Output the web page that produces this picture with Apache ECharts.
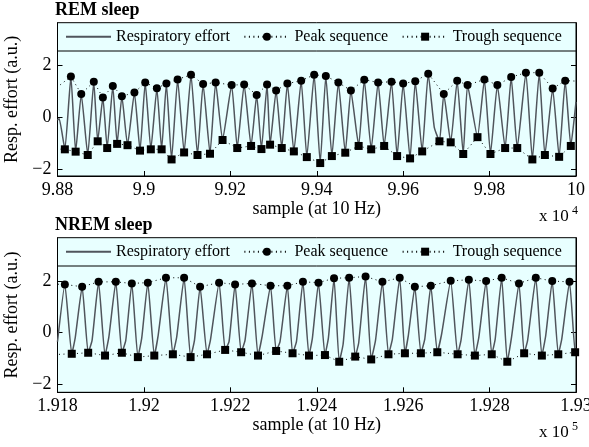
<!DOCTYPE html>
<html>
<head>
<meta charset="utf-8">
<script src="https://cdn.jsdelivr.net/npm/echarts@6/dist/echarts.min.js"></script>
<style>html,body{margin:0;padding:0;background:#fff}#c{width:589px;height:447px}</style>
</head>
<body>
<div id="c"></div>
<script>
// ---------- REM sleep (samples at 10 Hz) ----------
const remEffortX = [98800,98804,98817,98831,98842,98855,98870,98884,98893,98905,98915,98928,98938,98949,98962,98978,98991,99003,99016,99030,99041,99052,99064,99078,99093,99109,99124,99137,99153,99166,99182,99203,99216,99232,99248,99261,99272,99285,99292,99306,99319,99332,99347,99364,99377,99394,99408,99421,99435,99450,99466,99479,99497,99510,99526,99542,99556,99573,99586,99600,99616,99628,99644,99658,99672,99684,99694,99710,99725,99739,99749,99772,99788,99802,99818,99836,99850,99864,99884,99899,99915,99928,99946,99961,99975,99988,100000];
const remEffortY = [-0.1,-0.05,-1.23,1.58,-1.32,0.91,-1.45,1.38,-0.92,0.77,-1.18,1.22,-1.02,0.82,-1.07,0.96,-1.28,1.35,-1.23,1.13,-1.23,1.31,-1.62,1.47,-1.35,1.65,-1.45,1.29,-1.40,1.35,-0.87,1.25,-1.18,1.27,-1.10,0.87,-1.22,1.27,-1.05,1.04,-1.18,1.31,-1.31,1.42,-1.53,1.65,-1.76,1.60,-1.49,1.35,-1.36,1.04,-1.10,1.46,-1.23,1.35,-1.10,1.38,-1.49,1.31,-1.58,1.40,-1.31,1.69,-0.38,-0.92,0.91,-0.96,1.42,-1.41,1.25,-0.76,1.47,-1.41,1.25,-1.18,1.56,-1.18,1.73,-1.62,1.73,-1.45,1.12,-1.52,1.42,-1.10,0.6];
const remPeakX = [98790,98831,98855,98884,98905,98928,98949,98978,99003,99030,99052,99078,99109,99137,99166,99203,99232,99261,99285,99306,99332,99364,99394,99421,99450,99479,99510,99542,99573,99600,99628,99658,99694,99725,99749,99788,99818,99850,99884,99915,99946,99975,100010];
const remPeakY = [1.05,1.58,0.91,1.38,0.77,1.22,0.82,0.96,1.35,1.13,1.31,1.47,1.65,1.29,1.35,1.25,1.27,0.87,1.27,1.04,1.31,1.42,1.65,1.60,1.35,1.04,1.46,1.35,1.38,1.31,1.40,1.69,0.91,1.42,1.25,1.47,1.25,1.56,1.73,1.73,1.12,1.42,1.40];
const remTroughX = [98776,98817,98842,98870,98893,98915,98938,98962,98991,99016,99041,99064,99093,99124,99153,99182,99216,99248,99272,99292,99319,99347,99377,99408,99435,99466,99497,99526,99556,99586,99616,99644,99684,99710,99739,99772,99802,99836,99864,99899,99928,99961,99988];
const remTroughY = [-1.2,-1.23,-1.32,-1.45,-0.92,-1.18,-1.02,-1.07,-1.28,-1.23,-1.23,-1.62,-1.35,-1.45,-1.40,-0.87,-1.18,-1.10,-1.22,-1.05,-1.18,-1.31,-1.53,-1.76,-1.49,-1.36,-1.10,-1.23,-1.10,-1.49,-1.58,-1.31,-0.92,-0.96,-1.41,-0.76,-1.41,-1.18,-1.18,-1.62,-1.45,-1.52,-1.10];

// ---------- NREM sleep ----------
const nremEffortX = [191800,191817,191833,191841,191857,191871,191880,191895,191910,191919,191935,191949,191958,191972,191986,191995,192009,192024,192033,192051,192067,192076,192093,192108,192117,192130,192146,192154,192174,192188,192197,192211,192225,192234,192250,192264,192274,192293,192306,192315,192332,192344,192353,192368,192382,192390,192404,192419,192427,192440,192452,192461,192475,192489,192497,192513,192526,192536,192552,192566,192575,192592,192604,192612,192627,192641,192650,192664,192679,192689,192710,192726,192734,192752,192766,192775,192792,192805,192813,192828,192841,192851,192868,192880,192888,192907,192921,192930,192945,192959,192967,192985,192998,193000];
const nremEffortY = [-0.35,1.88,-0.82,-0.2,1.79,-0.78,-0.3,1.98,-0.89,-0.15,1.98,-0.78,-0.3,1.92,-0.95,-0.2,1.95,-0.89,-0.1,2.14,-0.84,-0.15,2.14,-0.95,-0.3,1.79,-0.84,-0.28,1.95,-0.67,-0.35,1.88,-0.76,-0.3,1.92,-0.89,-0.1,1.83,-0.71,-0.35,1.83,-0.80,-0.35,1.98,-0.89,-0.2,1.95,-0.87,-0.2,2.12,-1.13,-0.45,2.14,-0.93,-0.4,2.19,-1.04,-0.3,1.98,-0.84,-0.25,2.14,-0.80,-0.1,1.79,-0.80,-0.25,1.83,-0.76,-0.05,2.02,-0.84,-0.28,2.06,-0.89,-0.19,2.01,-0.84,-0.25,2.14,-1.13,-0.15,1.92,-0.80,-0.3,2.14,-0.89,-0.1,2.01,-0.84,-0.25,1.98,-0.76,-0.6];
const nremPeakX = [191780,191817,191857,191895,191935,191972,192009,192051,192093,192130,192174,192211,192250,192293,192332,192368,192404,192440,192475,192513,192552,192592,192627,192664,192710,192752,192792,192828,192868,192907,192945,192985,193022];
const nremPeakY = [1.9,1.88,1.79,1.98,1.98,1.92,1.95,2.14,2.14,1.79,1.95,1.88,1.92,1.83,1.83,1.98,1.95,2.12,2.14,2.19,1.98,2.14,1.79,1.83,2.02,2.06,2.01,2.14,1.92,2.14,2.01,1.98,1.95];
const nremTroughX = [191793,191833,191871,191910,191949,191986,192024,192067,192108,192146,192188,192225,192264,192306,192344,192382,192419,192452,192489,192526,192566,192604,192641,192679,192726,192766,192805,192841,192880,192921,192959,192998];
const nremTroughY = [-0.85,-0.82,-0.78,-0.89,-0.78,-0.95,-0.89,-0.84,-0.95,-0.84,-0.67,-0.76,-0.89,-0.71,-0.80,-0.89,-0.87,-1.13,-0.93,-1.04,-0.84,-0.80,-0.80,-0.76,-0.84,-0.89,-0.84,-1.13,-0.80,-0.89,-0.84,-0.76];

const titles = ['REM sleep', 'NREM sleep'];
const seriesNames = ['Respiratory effort', 'Peak sequence', 'Trough sequence'];
const yTicks = [-2, 0, 2];
const xLabelText = 'sample (at 10 Hz)';
const yLabelText = 'Resp. effort (a.u.)';
const xExponents = ['4', '5'];

const zip = (xs, ys) => xs.map((x, i) => [x, ys[i]]);
const FONT = 'Liberation Serif';
const BG = '#E8FFFF';
const LINEC = '#50555c';

const panels = [
  { top: 22.7, height: 153.3, xmin: 98800, xmax: 100000, scale: 1e4, ymin: -2.26, ymax: 3.66, nameGap: 24,
    effort: zip(remEffortX, remEffortY), peaks: zip(remPeakX, remPeakY), troughs: zip(remTroughX, remTroughY) },
  { top: 237.7, height: 154.6, xmin: 191800, xmax: 193000, scale: 1e5, ymin: -2.32, ymax: 3.70, nameGap: 22,
    effort: zip(nremEffortX, nremEffortY), peaks: zip(nremPeakX, nremPeakY), troughs: zip(nremTroughX, nremTroughY) }
];

const grids = [], xAxes = [], yAxes = [], series = [], legends = [], graphics = [];
const left = 57.5, right = 13;
panels.forEach((p, i) => {
  grids.push({ left: left, right: right, top: p.top, height: p.height, show: true,
    backgroundColor: BG, borderColor: '#000', borderWidth: 1, containLabel: false, outerBoundsMode: 'none' });
  xAxes.push({ gridIndex: i, type: 'value', min: p.xmin, max: p.xmax, interval: 200,
    name: xLabelText, nameLocation: 'middle', nameGap: p.nameGap,
    nameTextStyle: { fontFamily: FONT, fontSize: 18, color: '#000' },
    axisLine: { show: true, onZero: false, lineStyle: { color: '#000', width: 1 } },
    axisTick: { inside: true, length: 5, lineStyle: { color: '#000' } },
    axisLabel: { margin: 5, fontFamily: FONT, fontSize: 18, color: '#000', showMaxLabel: true, showMinLabel: true,
      formatter: v => String(+(v / p.scale).toFixed(4)) },
    splitLine: { show: false } });
  const yCommon = { gridIndex: i, type: 'value', min: p.ymin, max: p.ymax,
    axisLine: { show: true, onZero: false, lineStyle: { color: '#000', width: 1 } },
    axisTick: { inside: true, length: 5, customValues: yTicks, lineStyle: { color: '#000' } },
    splitLine: { show: false } };
  yAxes.push(Object.assign({}, yCommon, { position: 'left',
    name: yLabelText, nameLocation: 'middle', nameGap: 27, nameRotate: 90,
    nameTextStyle: { fontFamily: FONT, fontSize: 18, color: '#000' },
    axisLabel: { margin: 6, fontFamily: FONT, fontSize: 18, color: '#000', customValues: yTicks,
      formatter: v => v < 0 ? '\u2212' + (-v) : String(v) } }));
  yAxes.push(Object.assign({}, yCommon, { position: 'right', axisLabel: { show: false } }));
  const yi = i * 2;
  series.push({ name: seriesNames[0], type: 'line', xAxisIndex: i, yAxisIndex: yi, data: p.effort,
    showSymbol: false, symbol: 'none', smooth: 0.15, z: 2,
    lineStyle: { color: LINEC, width: 1.5 }, itemStyle: { color: 'rgba(0,0,0,0)' } });
  series.push({ name: seriesNames[1], type: 'line', xAxisIndex: i, yAxisIndex: yi, data: p.peaks,
    symbol: 'circle', symbolSize: 8, showSymbol: true, z: 3,
    lineStyle: { color: '#000', width: 1, type: [1, 3.5] }, itemStyle: { color: '#000' } });
  series.push({ name: seriesNames[2], type: 'line', xAxisIndex: i, yAxisIndex: yi, data: p.troughs,
    symbol: 'rect', symbolSize: 8, showSymbol: true, z: 3,
    lineStyle: { color: '#000', width: 1, type: [1, 3.5] }, itemStyle: { color: '#000' } });
  legends.push({ top: p.top + 6, left: 65, padding: 0, itemWidth: 45, itemHeight: 10, itemGap: 13.5,
    selectedMode: false, textStyle: { fontFamily: FONT, fontSize: 16, color: '#000' }, data: seriesNames.slice() });
  graphics.push({ type: 'line', shape: { x1: left, y1: p.top + 28.3, x2: 589 - right, y2: p.top + 28.3 },
    style: { stroke: '#000', lineWidth: 1 }, z: 10 });
  graphics.push({ type: 'text', left: 55, top: p.top - 21, style: { text: titles[i], font: 'bold 18px "Liberation Serif"', fill: '#000' } });
  const bottom = p.top + p.height;
  graphics.push({ type: 'text', left: 539, top: bottom + 32, style: { text: 'x 10', font: '17px "Liberation Serif"', fill: '#000' } });
  graphics.push({ type: 'text', left: 572, top: bottom + 29, style: { text: xExponents[i], font: '12px "Liberation Serif"', fill: '#000' } });
});

const chart = echarts.init(document.getElementById('c'), null, { renderer: 'canvas' });
chart.setOption({
  animation: false,
  backgroundColor: '#fff',
  grid: grids, xAxis: xAxes, yAxis: yAxes, series: series, legend: legends, graphic: graphics
});
</script>
</body>
</html>
